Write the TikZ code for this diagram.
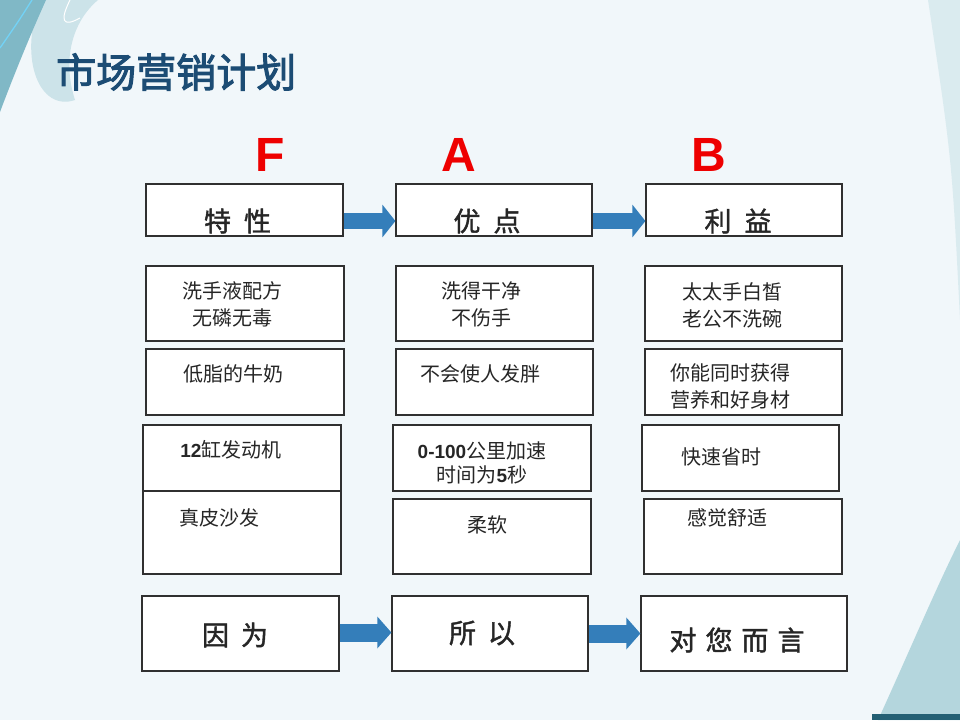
\documentclass[tikz,border=0pt]{standalone}
\usepackage{fontspec}
\setmainfont{Liberation Sans}
\newfontfamily\cjk{Noto Sans CJK SC}
\newfontfamily\cjkbold{Noto Sans CJK SC}[FakeBold=2.5]
\newfontfamily\cjkhead{Noto Sans CJK SC}[FakeBold=1.5]
\usetikzlibrary{arrows.meta,calc}
\definecolor{bgc}{RGB}{241,247,250}
\definecolor{tealA}{RGB}{128,184,198}
\definecolor{tealB}{RGB}{204,227,233}
\definecolor{tealC}{RGB}{160,204,212}
\definecolor{tealD}{RGB}{36,96,116}
\definecolor{titleblue}{RGB}{28,76,116}
\definecolor{arrowblue}{RGB}{52,126,186}
\definecolor{boxline}{RGB}{48,48,48}
\definecolor{txt}{RGB}{38,38,38}
\definecolor{fabred}{RGB}{238,0,0}
\newcommand{\numb}[1]{{\rmfamily\bfseries\fontsize{19}{22}\selectfont #1}}
\tikzset{
  box/.style={draw=boxline, line width=1.2pt, fill=white, inner sep=0pt},
  body/.style={font=\cjk\fontsize{20}{27}\selectfont, text=txt, align=center, inner sep=0pt},
  head/.style={font=\cjkhead\fontsize{27}{30}\selectfont, text=txt, inner sep=0pt},
  letter/.style={font=\bfseries\fontsize{48}{48}\selectfont, text=fabred, inner sep=0pt},
  toparrow/.style={draw=arrowblue, line width=16pt, -{Triangle[length=13pt,width=32pt]}},
  botarrow/.style={draw=arrowblue, line width=18pt, -{Triangle[length=14pt,width=31pt]}}
}
\begin{document}
\begin{tikzpicture}[x=1pt,y=-1pt]
\useasboundingbox (0,0) rectangle (960,720);
% background
\fill[bgc] (0,0) rectangle (960,720);
\fill[tealB] (40,0) .. controls (18,60) and (40,112) .. (75,100) .. controls (62,60) and (72,22) .. (98,0) -- cycle;
\fill[tealA] (0,0) -- (46,0) .. controls (28,40) and (12,80) .. (0,112) -- cycle;
\draw[cyan!55!white, line width=1.3pt] (32,0) .. controls (18,22) .. (0,48);
\draw[white, line width=1pt] (70,0) .. controls (60,20) and (62,28) .. (80,18);
\fill[tealB, opacity=.6] (928,0) -- (960,0) -- (960,320) .. controls (952,160) .. (928,0);
\fill[tealC, opacity=.75] (960,540) -- (960,720) -- (878,720) .. controls (910,650) and (935,590) .. (960,540);
\fill[tealD] (872,714) rectangle (960,720);
% title and letters
\node[anchor=west, font=\cjkbold\fontsize{40}{40}\selectfont, text=titleblue, inner sep=0pt] (title) at (56,72) {市场营销计划};
\node[letter] (lf) at (270,155) {F};
\node[letter] (la) at (459,155) {A};
\node[letter] (lb) at (709,155) {B};
% header row
\node[box, minimum width=197pt, minimum height=52pt] (hf) at (244.5,210) {};
\node[box, minimum width=196pt, minimum height=52pt] (ha) at (494,210) {};
\node[box, minimum width=196pt, minimum height=52pt] (hb) at (744,210) {};
\draw[toparrow] ($(hf.east)+(0,11)$) -- ($(ha.west)+(0,11)$);
\draw[toparrow] ($(ha.east)+(0,11)$) -- ($(hb.west)+(0,11)$);
\node[head] (hft) at (237.5,221) {特\hspace{13pt}性};
\node[head] (hat) at (487,221) {优\hspace{13pt}点};
\node[head] (hbt) at (738,221) {利\hspace{13pt}益};
% row 2
\node[box, minimum width=198pt, minimum height=75pt] (r2a) at (245,303.5) {};
\node[box, minimum width=197pt, minimum height=75pt] (r2b) at (494.5,303.5) {};
\node[box, minimum width=197pt, minimum height=75pt] (r2c) at (743.5,303.5) {};
% row 3
\node[box, minimum width=198pt, minimum height=66pt] (r3a) at (245,382) {};
\node[box, minimum width=197pt, minimum height=66pt] (r3b) at (494.5,382) {};
\node[box, minimum width=197pt, minimum height=66pt] (r3c) at (743.5,382) {};
% row 4
\node[box, minimum width=198pt, minimum height=66pt] (r4a) at (242,458) {};
\node[box, minimum width=198pt, minimum height=83pt] (r5a) at (242,532.5) {};
\node[box, minimum width=198pt, minimum height=66pt] (r4b) at (492,458) {};
\node[box, minimum width=198pt, minimum height=75pt] (r5b) at (492,536.5) {};
\node[box, minimum width=197pt, minimum height=66pt] (r4c) at (740.5,458) {};
\node[box, minimum width=198pt, minimum height=75pt] (r5c) at (743,536.5) {};
% texts
\node[body] (t1) at (232.5,304.5) {洗手液配方\\无磷无毒};
\node[body] (t2) at (233,374) {低脂的牛奶};
\node[body] (t3) at (481,304.5) {洗得干净\\不伤手};
\node[body] (t4) at (480,374) {不会使人发胖};
\node[body] (t5) at (732,305) {太太手白皙\\老公不洗碗};
\node[body] (t6) at (730,386) {你能同时获得\\营养和好身材};
\node[body] (t7) at (231,450) {\numb{12}缸发动机};
\node[body] (t8) at (219,518) {真皮沙发};
\node[body] (t9) at (482,462.5) {\numb{0-100}公里加速\\[-3pt]时间为\numb{5}秒};
\node[body] (t10) at (487,525) {柔软};
\node[body] (t11) at (721,457) {快速省时};
\node[body] (t12) at (727,518) {感觉舒适};
% bottom row
\node[box, minimum width=197pt, minimum height=75pt] (b1) at (240.5,633.5) {};
\node[box, minimum width=196pt, minimum height=75pt] (b2) at (490,633.5) {};
\node[box, minimum width=206pt, minimum height=75pt] (b3) at (744,633.5) {};
\draw[botarrow] ($(b1.east)+(0,-1)$) -- ($(b2.west)+(0,-1)$);
\draw[botarrow] ($(b2.east)+(0,0)$) -- ($(b3.west)+(0,0)$);
\node[head] (bt1) at (235,635) {因\hspace{12pt}为};
\node[head] (bt2) at (482,633) {所\hspace{12pt}以};
\node[head] (bt3) at (737,640) {对\hspace{9pt}您\hspace{9pt}而\hspace{9pt}言};
\end{tikzpicture}
\end{document}
